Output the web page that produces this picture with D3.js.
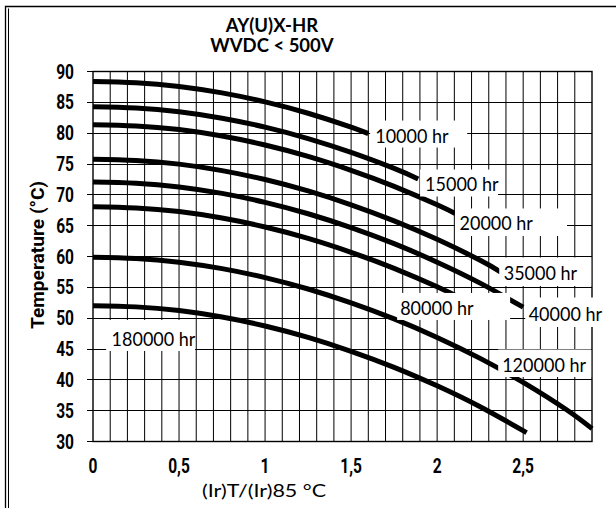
<!DOCTYPE html>
<html><head><meta charset="utf-8">
<script src="https://cdn.jsdelivr.net/npm/d3@7"></script>
<style>body{margin:0;background:#fff}svg{display:block}</style>
</head><body><svg id="c" width="616" height="508"></svg>
<script>
// ---- data ----
const titleLines = ["AY(U)X-HR", "WVDC < 500V"];
const xTicks = [0, 0.5, 1, 1.5, 2, 2.5];
const yTicks = [30, 35, 40, 45, 50, 55, 60, 65, 70, 75, 80, 85, 90];
const seriesNames = ["10000 hr","15000 hr","20000 hr","35000 hr","40000 hr","80000 hr","120000 hr","180000 hr"];
const x10000 = [0,0.25,0.5,0.75,1,1.25,1.5,1.6];
const t10000 = [88.3,88.1,87.5,86.45,85.0,83.15,80.9,79.85];
const x15000 = [0,0.25,0.5,0.75,1,1.25,1.5,1.75,1.89];
const t15000 = [84.2,84.0,83.4,82.35,80.9,79.05,76.8,74.2,72.5];
const x20000 = [0,0.25,0.5,0.75,1,1.25,1.5,1.75,2,2.105];
const t20000 = [81.3,81.1,80.5,79.45,78.0,76.15,73.9,71.3,68.3,66.9];
const x35000 = [0,0.25,0.5,0.75,1,1.25,1.5,1.75,2,2.25,2.37];
const t35000 = [75.7,75.5,74.9,73.85,72.4,70.55,68.3,65.7,62.7,59.3,57.4];
const x40000 = [0,0.25,0.5,0.75,1,1.25,1.5,1.75,2,2.25,2.5];
const t40000 = [72.0,71.8,71.2,70.15,68.7,66.85,64.6,62.0,59.0,55.6,51.7];
const x80000 = [0,0.25,0.5,0.75,1,1.25,1.5,1.75,2,2.15];
const t80000 = [68.0,67.8,67.2,66.15,64.7,62.85,60.6,58.0,55.0,53.0];
const x120000 = [0,0.25,0.5,0.75,1,1.25,1.5,1.75,2,2.25,2.5,2.75,2.9];
const t120000 = [59.8,59.6,59.0,57.95,56.5,54.65,52.4,49.8,46.8,43.4,39.5,35.1,32.0];
const x180000 = [0,0.25,0.5,0.75,1,1.25,1.5,1.75,2,2.25,2.52];
const t180000 = [51.95,51.75,51.15,50.1,48.65,46.8,44.55,41.95,38.95,35.55,31.35];
// label anchors (data units: x, temperature at text baseline)
const labelX = [1.64, 1.93, 2.13, 2.387, 2.532, 1.785, 2.378, 0.108];
const labelT = [78.4, 70.46, 64.14, 56.03, 49.54, 50.44, 41.27, 45.33];

// ---- layout ----
const svg = d3.select("#c");
const x = d3.scaleLinear().domain([0, 2.9]).range([93, 592]);
const y = d3.scaleLinear().domain([30, 90]).range([441, 71]);
const X = [x10000,x15000,x20000,x35000,x40000,x80000,x120000,x180000];
const T = [t10000,t15000,t20000,t35000,t40000,t80000,t120000,t180000];
// label white boxes: [dx0, dy0, dx1, dy1] relative to text left/baseline (px)
const boxPad = [[-5,-22,92,5],[-5,-22,73,5],[-4.5,-22,107.5,5.5],[-4.5,-23,87.5,5.5],[-3.5,-23,77,6.5],[-3,-22,110,5],[-4,-22,89,5.5],[-5.5,-26.5,83.5,4.5]];
const labelFont = "Lato, 'Open Sans', sans-serif";
const condensed = "Roboto, 'DejaVu Sans', sans-serif";

// outer chart frame
svg.append("path").attr("d","M5.5,508V6.5H616").attr("fill","none").attr("stroke","#000").attr("stroke-width",1.3);
svg.append("path").attr("d","M8.5,508V8.5").attr("fill","none").attr("stroke","#000").attr("stroke-width",1);

const g = svg.append("g");
// vertical gridlines every 0.1
const vx = d3.range(1, 29).map(i => i / 10);
g.selectAll("line.v").data(vx).join("line")
  .attr("x1", d => x(d)).attr("x2", d => x(d))
  .attr("y1", y(90)).attr("y2", y(30))
  .attr("stroke", "#000").attr("stroke-width", 1);
// horizontal gridlines every 5 (with outer tick stubs)
g.selectAll("line.h").data(yTicks).join("line")
  .attr("x1", x(0) - 6).attr("x2", x(2.9))
  .attr("y1", d => Math.round(y(d)) + 0.5).attr("y2", d => Math.round(y(d)) + 0.5)
  .attr("stroke", "#000").attr("stroke-width", 1);
// plot border
g.append("rect").attr("x", x(0)).attr("y", Math.round(y(90))+0.5)
  .attr("width", x(2.9) - x(0)).attr("height", Math.round(y(30)) - Math.round(y(90)))
  .attr("fill", "none").attr("stroke", "#000").attr("stroke-width", 1.4);

// curves
const line = d3.line().x(d => x(d[0])).y(d => y(d[1])).curve(d3.curveNatural);
seriesNames.forEach((n, i) => {
  const pts = X[i].map((v, j) => [v, T[i][j]]);
  g.append("path").attr("d", line(pts)).attr("fill", "none")
    .attr("stroke", "#000").attr("stroke-width", 5).attr("stroke-linecap", "butt");
});

// labels with white boxes
seriesNames.forEach((n, i) => {
  const lx = x(labelX[i]), ly = y(labelT[i]), b = boxPad[i];
  g.append("rect").attr("x", lx + b[0]).attr("y", ly + b[1])
    .attr("width", b[2] - b[0]).attr("height", b[3] - b[1]).attr("fill", "#fff");
  g.append("text").attr("transform", `translate(${lx},${ly}) scale(1,1.12)`).text(n)
    .attr("font-family", labelFont).attr("font-size", 18)
    .attr("fill", "#000");
});

// y tick labels
svg.selectAll("text.yt").data(yTicks).join("text")
  .attr("transform", d => `translate(74,${y(d)}) scale(0.74,1)`)
  .attr("dy", "0.36em").attr("text-anchor", "end")
  .attr("font-family", condensed).attr("font-weight", "bold").attr("font-size", 21)
  .text(d => d);
// x tick labels
svg.selectAll("text.xt").data(xTicks).join("text")
  .attr("transform", d => `translate(${x(d)},473) scale(0.74,1)`)
  .attr("text-anchor", "middle")
  .attr("font-family", condensed).attr("font-weight", "bold").attr("font-size", 21)
  .text(d => String(d).replace(".", ","));

// axis titles
svg.append("text").attr("transform", "translate(44,255) rotate(-90)")
  .attr("text-anchor", "middle").attr("font-family", condensed).attr("font-weight", "bold")
  .attr("font-size", 19).attr("textLength", 148).attr("lengthAdjust", "spacingAndGlyphs")
  .text("Temperature (°C)");
svg.append("text").attr("x", 264).attr("y", 497).attr("text-anchor", "middle")
  .attr("font-family", labelFont).attr("font-size", 18)
  .attr("textLength", 124).attr("lengthAdjust", "spacingAndGlyphs")
  .text("(Ir)T/(Ir)85 °C");

// title
svg.selectAll("text.title").data(titleLines).join("text")
  .attr("x", 272).attr("y", (d, i) => 32 + i * 20).attr("text-anchor", "middle")
  .attr("font-family", labelFont).attr("font-weight", "bold").attr("font-size", 18.5)
  .text(d => d);
</script>
</body></html>
